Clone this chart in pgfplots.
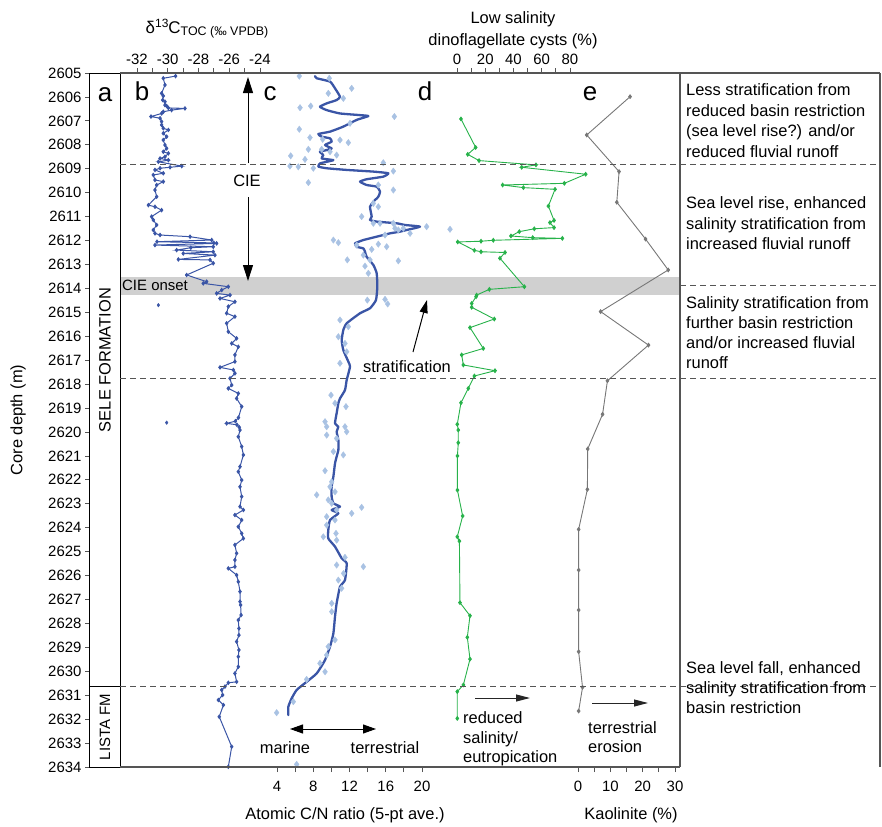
\documentclass[border=0pt]{standalone}
\usepackage{fontspec}
\setmainfont{Liberation Sans}
\usepackage{pgfplots}
\pgfplotsset{compat=1.18}
\usetikzlibrary{arrows.meta}
\definecolor{cblue}{HTML}{3A55A6}
\definecolor{lblue}{HTML}{A9C2E3}
\definecolor{cgreen}{HTML}{27B24A}
\definecolor{cgray}{HTML}{777777}
\definecolor{frm}{HTML}{555555}
\definecolor{bandgray}{HTML}{D0D0D0}
\newcommand{\tfont}{\fontsize{16.5}{20}\selectfont}
\newcommand{\kfont}{\fontsize{15}{15}\selectfont}
\newcommand{\lfont}{\fontsize{26}{26}\selectfont}
\pgfplotsset{
  panel/.style={scale only axis, height=694bp, ymin=-2634, ymax=-2605,
    clip=false, anchor=north west, axis y line=none,
    tick align=outside, major tick length=5bp, minor tick length=5bp,
    tick style={frm, line width=0.9bp},
    axis line style={draw=none},
    /pgf/number format/assume math mode=true,
    xticklabel style={font=\kfont},
  },
  bottompanel/.style={panel, axis x line*=bottom, xticklabel style={yshift=-6bp}},
  toppanel/.style={panel, axis x line*=top},
}
\begin{document}
\begin{tikzpicture}
\useasboundingbox (0,0) rectangle (882bp,-827bp);
\begin{scope}[x=1bp,y=-1bp]
\fill[bandgray] (120,276.5) rectangle (680,295);
\end{scope}

% depth axis and column a
\begin{axis}[scale only axis, at={(89bp,-73bp)}, anchor=north west, width=31bp, height=694bp,
  xmin=0, xmax=1, ymin=2605, ymax=2634, y dir=reverse, xtick=\empty,
  ytick distance=1, ytick pos=left, tick align=outside, major tick length=4bp,
  /pgf/number format/assume math mode=true,
  yticklabel style={font=\kfont, /pgf/number format/1000 sep={}},
  axis line style={black, line width=0.8bp}, tick style={frm, line width=0.8bp}]
\end{axis}

% panel b: d13C
\begin{axis}[toppanel, at={(137bp,-73bp)}, width=123bp, xmin=-32, xmax=-24,
  xtick={-32,-30,-28,-26,-24}, xticklabels={-32,-30,-28,-26,-24},
  minor xtick={-31,-29,-27,-25}]
\addplot[cblue, line width=1bp, mark=diamond*, mark size=1.6bp] table[x=v, y expr=-\thisrow{d}] {
d v
2605.13 -29.49
2605.22 -30.29
2605.50 -30.18
2605.85 -30.40
2605.96 -30.29
2606.13 -30.33
2606.20 -30.18
2606.34 -30.18
2606.38 -30.07
2606.46 -29.96
2606.48 -28.88
2606.55 -29.75
2606.62 -30.29
2606.69 -30.40
2606.82 -31.09
2606.89 -30.50
2607.03 -30.40
2607.17 -30.40
2607.31 -30.29
2607.38 -29.96
2607.52 -30.29
2607.66 -30.07
2607.80 -30.29
2608.01 -30.18
2608.15 -30.07
2608.29 -30.29
2608.36 -29.96
2608.50 -30.18
2608.57 -30.50
2608.64 -29.96
2608.71 -30.61
2608.89 -29.09
2608.94 -29.85
2608.98 -30.50
2609.05 -30.83
2609.19 -30.29
2609.26 -30.94
2609.47 -30.83
2609.54 -30.29
2609.68 -30.72
2609.89 -30.83
2610.17 -30.72
2610.52 -31.26
2610.59 -30.83
2610.73 -30.40
2611.00 -31.05
2611.14 -30.94
2611.35 -30.72
2611.56 -30.94
2611.70 -30.83
2611.77 -30.50
2611.84 -28.55
2611.98 -27.14
2612.05 -30.70
2612.10 -27.00
2612.12 -26.82
2612.19 -30.83
2612.26 -27.04
2612.30 -28.50
2612.40 -29.42
2612.47 -27.04
2612.54 -28.99
2612.61 -26.93
2612.79 -29.31
2612.81 -27.25
2612.95 -27.04
2613.44 -28.77
2613.72 -27.47
2613.79 -27.69
2613.93 -26.06
2614.07 -26.49
2614.21 -26.82
2614.28 -25.95
2614.42 -26.60
2614.56 -25.63
2614.76 -26.06
2615.04 -26.17
2615.18 -25.63
2615.46 -26.17
2615.81 -26.06
2616.09 -25.52
2616.30 -25.84
2616.44 -25.41
2616.78 -25.63
2617.06 -25.63
2617.30 -26.60
2617.41 -25.73
2617.55 -25.63
2617.76 -25.95
2618.04 -25.84
2618.18 -26.06
2618.39 -25.41
2618.60 -25.52
2618.94 -25.19
2619.40 -25.40
2619.55 -25.60
2619.64 -26.17
2619.70 -25.50
2619.80 -25.35
2619.92 -25.30
2620.20 -25.41
2620.61 -25.19
2620.96 -25.08
2621.45 -25.30
2621.66 -25.41
2622.01 -25.19
2622.29 -25.30
2622.70 -25.19
2623.12 -25.30
2623.26 -25.08
2623.47 -25.63
2623.68 -25.19
2623.96 -25.41
2624.24 -25.19
2624.45 -25.08
2624.72 -25.63
2625.07 -25.52
2625.35 -25.63
2625.63 -25.63
2625.70 -26.06
2625.98 -25.52
2626.26 -25.41
2626.67 -25.30
2627.09 -25.30
2627.23 -25.26
2627.65 -25.23
2627.86 -25.41
2628.21 -25.37
2628.49 -25.37
2628.76 -25.52
2629.11 -25.37
2629.39 -25.41
2629.81 -25.41
2630.09 -25.63
2630.44 -25.52
2630.48 -26.06
2630.64 -26.28
2630.78 -26.49
2630.99 -26.43
2631.20 -26.71
2631.41 -26.38
2631.90 -26.65
2633.15 -25.84
2633.99 -26.06
};
\addplot[only marks, cblue, mark=diamond*, mark size=1.8bp] table[x=v, y expr=-\thisrow{d}] {
d v
2614.70 -30.61
2619.61 -30.07
};
\end{axis}

% panel c: C/N
\begin{axis}[bottompanel, at={(277bp,-73bp)}, width=145bp, xmin=4, xmax=20,
  xtick={4,8,12,16,20}, minor xtick={6,10,14,18}]
\addplot[only marks, lblue, mark=diamond*, mark size=3.2bp] table[x=v, y expr=-\thisrow{d}] {
d v
2605.13 6.46
2605.22 9.77
2605.85 9.66
2605.64 12.24
2606.45 6.54
2606.38 7.72
2606.06 11.32
2607.10 12.06
2606.82 16.95
2607.35 6.46
2607.70 7.64
2607.77 9.04
2607.80 10.95
2607.91 11.87
2608.19 7.46
2608.19 8.93
2608.29 9.85
2608.43 10.58
2608.46 5.51
2608.61 7.09
2608.89 5.43
2608.92 6.35
2608.98 8.01
2608.75 15.73
2609.10 16.84
2609.58 7.46
2609.68 15.18
2609.89 16.84
2610.45 14.63
2610.59 15.18
2611.00 13.34
2611.28 14.63
2611.28 15.37
2611.28 16.84
2611.49 17.02
2611.49 17.94
2611.42 20.51
2611.70 18.68
2611.56 17.39
2611.77 15.92
2611.98 10.22
2612.09 10.77
2612.15 15.18
2612.26 16.10
2612.19 12.79
2612.37 14.45
2612.81 11.76
2612.61 13.53
2612.81 14.26
2612.85 17.39
2613.07 13.71
2613.37 14.08
2614.49 13.97
2614.46 15.92
2614.65 16.21
2615.32 10.95
2615.60 11.87
2616.02 10.77
2611.53 23.09
2616.30 11.50
2616.65 11.69
2617.13 10.95
2618.46 9.96
2618.80 10.40
2618.94 11.61
2619.57 9.30
2619.78 9.48
2619.78 11.50
2619.99 11.69
2620.13 9.48
2620.27 10.58
2620.82 10.22
2620.96 11.32
2621.62 9.30
2622.08 10.03
2622.63 8.38
2622.50 10.40
2622.84 9.66
2623.40 12.24
2623.15 13.34
2623.54 9.48
2623.68 10.40
2624.38 9.11
2624.52 10.58
2625.24 11.50
2622.29 9.85
2623.26 10.58
2622.98 10.03
2623.89 9.48
2624.24 10.51
2625.56 10.58
2625.63 13.53
2625.91 11.35
2626.19 10.77
2626.53 11.13
2627.16 10.04
2627.51 10.04
2628.69 10.40
2628.97 9.66
2629.32 9.48
2629.67 8.74
2630.02 9.30
2630.34 7.27
2631.27 5.80
2631.73 3.96
2633.89 6.17
};
\addplot[cblue, line width=2.3bp, line join=round, line cap=round, smooth, tension=0.3] table[x=v, y expr=-\thisrow{d}] {
d v
2605.13 8.20
2605.22 8.38
2605.36 9.85
2605.64 10.40
2605.99 10.95
2606.13 10.58
2606.27 9.48
2606.41 8.74
2606.55 9.48
2606.69 10.95
2606.76 13.16
2606.80 14.08
2606.96 12.79
2607.24 11.32
2607.45 9.85
2607.55 8.56
2607.66 8.93
2607.73 9.85
2607.87 10.03
2608.01 9.30
2608.15 10.03
2608.22 9.48
2608.29 8.74
2608.43 9.11
2608.57 8.93
2608.64 10.22
2608.71 9.48
2608.78 8.74
2608.91 8.56
2608.98 9.48
2609.05 11.69
2609.12 14.63
2609.19 16.28
2609.33 15.73
2609.44 13.89
2609.54 13.16
2609.68 13.89
2609.75 15.00
2609.96 15.37
2610.17 15.18
2610.38 14.63
2610.59 14.26
2611.00 14.45
2611.14 14.26
2611.21 15.00
2611.28 17.20
2611.35 18.12
2611.42 19.78
2611.56 18.31
2611.63 17.57
2611.70 16.47
2611.84 15.00
2611.98 13.53
2612.12 12.61
2612.26 12.79
2612.33 13.53
2612.47 13.71
2612.68 13.89
2613.02 14.63
2613.37 15.00
2613.93 15.07
2614.49 14.92
2614.83 14.26
2615.04 13.16
2615.46 11.69
2615.74 11.32
2616.16 11.14
2616.58 11.32
2617.06 11.87
2617.27 12.06
2617.83 11.69
2618.25 11.50
2618.60 10.95
2618.80 10.77
2619.22 10.58
2619.64 10.40
2619.78 10.77
2619.99 10.58
2620.34 10.77
2620.75 10.77
2621.03 10.58
2621.31 10.40
2621.87 10.22
2622.29 10.03
2622.70 10.03
2622.98 10.22
2623.12 10.95
2623.26 10.03
2623.40 10.77
2623.68 9.85
2624.10 9.66
2624.45 9.66
2624.79 10.40
2625.28 11.14
2625.49 11.69
2626.19 11.50
2626.47 10.95
2627.16 10.58
2627.72 10.40
2628.42 10.22
2628.97 9.85
2629.53 9.30
2630.09 8.38
2630.44 7.27
2630.78 6.17
2631.13 5.62
2631.48 5.25
2631.83 5.25
};
\end{axis}

% panel d: dinoflagellate cysts
\begin{axis}[toppanel, at={(457bp,-73bp)}, width=113bp, xmin=0, xmax=80,
  xtick={0,20,40,60,80}, minor xtick={10,30,50,70}]
\addplot[cgreen, line width=0.9bp, mark=diamond*, mark size=1.8bp] table[x=v, y expr=-\thisrow{d}] {
d v
2606.92 2.8
2608.11 13.2
2608.40 7.6
2608.66 15.6
2608.84 55.9
2608.94 45.8
2609.23 91.1
2609.61 76.0
2609.68 32.3
2609.79 47.0
2609.86 69.4
2610.56 64.7
2611.16 68.7
2611.25 65.8
2611.46 68.7
2611.51 54.7
2611.63 44.1
2611.81 38.2
2611.88 53.6
2611.91 74.6
2611.99 25.7
2612.03 17.0
2612.06 0.5
2612.41 12.3
2612.47 17.0
2612.50 34.0
2612.74 30.4
2613.93 47.7
2614.04 22.9
2614.28 13.9
2614.35 13.5
2614.63 10.4
2614.79 10.4
2615.28 26.4
2615.64 9.2
2616.51 18.6
2616.78 3.3
2617.20 4.5
2617.44 26.9
2617.66 12.3
2618.18 8.0
2618.78 2.8
2619.68 0.2
2619.92 0.9
2620.45 0.9
2621.00 0.3
2622.43 0.3
2623.51 4.0
2624.38 0.2
2624.56 1.7
2627.13 2.1
2627.68 9.2
2628.58 7.3
2629.49 9.2
2630.57 4.5
2630.85 0.2
2631.97 0.2
};
\end{axis}

% panel e: kaolinite
\begin{axis}[bottompanel, at={(578bp,-73bp)}, width=97bp, xmin=0, xmax=30,
  xtick={0,10,20,30}, minor xtick={5,15,25}]
\addplot[cgray, line width=0.9bp, mark=diamond*, mark size=1.8bp] table[x=v, y expr=-\thisrow{d}] {
d v
2605.99 16.1
2607.59 2.7
2609.12 12.7
2610.40 12.0
2611.94 20.9
2613.23 27.9
2614.97 7.0
2616.37 21.8
2617.86 9.1
2619.26 7.6
2620.71 3.0
2622.40 2.9
2624.07 0.2
2625.77 0.2
2627.44 0.2
2629.18 0.2
2630.67 1.4
2631.66 0.2
};
\end{axis}

\begin{scope}[x=1bp,y=-1bp]
% frame
\draw[frm, line width=1.3bp] (120,73) -- (880,73);
\draw[frm, line width=1.3bp] (120,767) -- (680,767);
\draw[frm, line width=1.3bp] (680,73) -- (680,767);
\draw[frm, line width=1.3bp] (880,73) -- (880,767);
\draw[black, line width=0.8bp] (89,686.5) -- (120,686.5);
\foreach \yy in {164.3,378.3,686.5}
  \draw[frm, line width=1bp, dash pattern=on 6bp off 4bp] (120,\yy) -- (880,\yy);
\draw[frm, line width=1bp, dash pattern=on 6bp off 4bp] (680,285) -- (880,285);
% panel letters
\node[font=\lfont, anchor=base] at (105,101) {a};
\node[font=\lfont, anchor=base] at (142,100) {b};
\node[font=\lfont, anchor=base] at (270,100) {c};
\node[font=\lfont, anchor=base] at (425,100) {d};
\node[font=\lfont, anchor=base] at (590,100) {e};
\node[font=\tfont, rotate=90] at (105,360) {SELE FORMATION};
\node[font=\kfont, rotate=90] at (105,727) {LISTA FM};
\node[font=\tfont, rotate=90] at (18,420) {Core depth (m)};
% axis titles
\node[anchor=base] at (207,33) {\fontsize{17}{17}\selectfont δ\raisebox{6bp}{\fontsize{12}{12}\selectfont 13}C\raisebox{-2bp}{\fontsize{12.5}{12.5}\selectfont TOC (‰ VPDB)}};
\node[font=\tfont, anchor=base] at (513,23) {Low salinity};
\node[font=\tfont, anchor=base] at (513,45) {dinoflagellate cysts (\%)};
\node[font=\tfont, anchor=base] at (345,819) {Atomic C/N ratio (5-pt ave.)};
\node[font=\tfont, anchor=base] at (631,819) {Kaolinite (\%)};
% CIE
\draw[-{Triangle[length=16bp,width=10bp]}, line width=1bp] (248,163) -- (248,77);
\node[font=\tfont] at (247,181) {CIE};
\draw[-{Triangle[length=16bp,width=10bp]}, line width=1bp] (248,197) -- (248,281);
\node[font=\kfont, anchor=west, inner sep=1bp] at (121,285) {CIE onset};
% stratification
\draw[-{Triangle[length=13bp,width=8bp]}, line width=1bp] (413,352) -- (427,300);
\node[font=\tfont] at (407,367) {stratification};
% marine / terrestrial
\draw[{Triangle[length=13bp,width=9bp]}-{Triangle[length=13bp,width=9bp]}, line width=1bp] (290,729) -- (376,729);
\node[font=\tfont] at (285,748) {marine};
\node[font=\tfont] at (385,748) {terrestrial};
% reduced salinity
\draw[-{Triangle[length=14bp,width=7bp]}, line width=1bp, black!85] (475,698) -- (530,698);
\node[font=\tfont, anchor=base west, inner sep=0pt] at (463,723) {reduced};
\node[font=\tfont, anchor=base west, inner sep=0pt] at (463,743) {salinity/};
\node[font=\tfont, anchor=base west, inner sep=0pt] at (463,762) {eutropication};
% terrestrial erosion
\draw[-{Triangle[length=14bp,width=7bp]}, line width=1bp, black!85] (592,703) -- (648,703);
\node[font=\tfont, anchor=base west, inner sep=0pt] at (588,733) {terrestrial};
\node[font=\tfont, anchor=base west, inner sep=0pt] at (588,752) {erosion};
% right column
\begin{scope}[every node/.style={font=\tfont, anchor=base west, inner sep=0pt}]
\node at (686,95.5) {Less stratification from};
\node at (686,116) {reduced basin restriction};
\node at (686,136.5) {(sea level rise?) and/or};
\node at (686,157) {reduced fluvial runoff};
\node at (686,208.5) {Sea level rise, enhanced};
\node at (686,229) {salinity stratification from};
\node at (686,249) {increased fluvial runoff};
\node at (686,308.5) {Salinity stratification from};
\node at (686,328.5) {further basin restriction};
\node at (686,348.5) {and/or increased fluvial};
\node at (686,368.5) {runoff};
\node at (686,673.5) {Sea level fall, enhanced};
\node at (686,693.5) {salinity stratification from};
\node at (686,713.5) {basin restriction};
\end{scope}
\end{scope}
\end{tikzpicture}
\end{document}
